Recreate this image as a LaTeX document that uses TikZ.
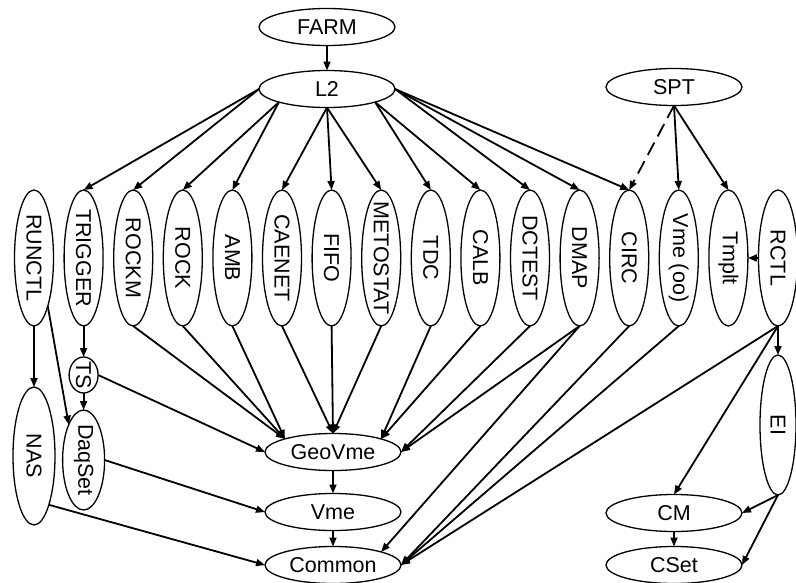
\documentclass[tikz,border=0pt]{standalone}
\usepackage{graphicx}
\usepackage{fontspec}
\setmainfont{Liberation Sans}
\usetikzlibrary{shapes.geometric}
\usetikzlibrary{positioning}
\usetikzlibrary{arrows.meta}
\newcommand{\vlab}[1]{\rotatebox{-90}{\makebox[0pt]{#1}}}

\begin{document}
\begin{tikzpicture}[x=1pt,y=-1pt,node distance=10.6pt,line width=1.8pt,
  >={Triangle[length=9pt,width=7pt]},
  font=\fontsize{21.5}{25}\selectfont,
  hnode/.style={draw,ellipse,line width=1.3pt,inner sep=0pt,outer sep=0pt,minimum width=136pt,minimum height=37pt},
  vnode/.style={draw,ellipse,line width=1.3pt,inner sep=0pt,outer sep=0pt,minimum width=39pt,minimum height=136pt}]
  \useasboundingbox (0,0) rectangle (796,582);
  \node[hnode](farm) at (327,27) {FARM};
  \node[hnode,below=25pt of farm](l2) {L2};
  \node[hnode](spt) at (674,87) {SPT};
  % row of modules
  \node[vnode](runctl) at (34,258) {\vlab{RUNCTL}};
  \node[vnode,right=of runctl](trigger) {\vlab{TRIGGER}};
  \node[vnode,right=of trigger](rockm) {\vlab{ROCKM}};
  \node[vnode,right=of rockm](rock) {\vlab{ROCK}};
  \node[vnode,right=of rock](amb) {\vlab{AMB}};
  \node[vnode,right=of amb](caenet) {\vlab{CAENET}};
  \node[vnode,right=of caenet](fifo) {\vlab{FIFO}};
  \node[vnode,right=of fifo](metostat) {\vlab{METOSTAT}};
  \node[vnode,right=of metostat](tdc) {\vlab{TDC}};
  \node[vnode,right=of tdc](calb) {\vlab{CALB}};
  \node[vnode,right=of calb](dctest) {\vlab{DCTEST}};
  \node[vnode,right=of dctest](dmap) {\vlab{DMAP}};
  \node[vnode,right=of dmap](circ) {\vlab{CIRC}};
  \node[vnode,right=of circ](vmeoo) {\vlab{Vme (oo)}};
  \node[vnode,right=of vmeoo](tmplt) {\vlab{Tmplt}};
  \node[vnode,right=of tmplt](rctl) {\vlab{RCTL}};
  % lower levels
  \node[vnode,below=31pt of trigger,minimum width=29pt,minimum height=36pt](ts) {\vlab{TS}};
  \node[vnode,below=17pt of ts,minimum width=42pt,minimum height=100pt](daqset) {\vlab{DaqSet}};
  \node[vnode,below=61pt of runctl,minimum width=42pt,minimum height=138pt](nas) {\vlab{NAS}};
  \node[vnode,below=29pt of rctl,minimum width=36pt,minimum height=140pt](ei) {\vlab{EI}};
  \node[hnode](geovme) at (333,452) {GeoVme};
  \node[hnode,below=23pt of geovme](vme) {Vme};
  \node[hnode,below=16pt of vme](common) {Common};
  \node[hnode](cm) at (674,513) {CM};
  \node[hnode,below=15pt of cm](cset) {CSet};
  % edges from the top
  \draw[->] (farm)--(l2);
  \draw[->] (l2.west)--(trigger.north);
  \draw[->] (l2.west)--(rockm.north);
  \draw[->] (l2.south west)--(rock.north);
  \draw[->] (l2.south west)--(amb.north);
  \draw[->] (l2.south)--(caenet.north);
  \draw[->] (l2.south)--(fifo.north);
  \draw[->] (l2.south)--(metostat.north);
  \draw[->] (l2.south east)--(tdc.north);
  \draw[->] (l2.south east)--(calb.north);
  \draw[->] (l2.east)--(dctest.north);
  \draw[->] (l2.east)--(dmap.north);
  \draw[->] (l2.east)--(circ.north);
  \draw[->,dash pattern=on 14pt off 7pt] (spt.south)--(circ.north);
  \draw[->] (spt.south)--(vmeoo.north);
  \draw[->] (spt.south)--(tmplt.north);
  \draw[->] (rctl)--(tmplt);
  % left side
  \draw[->] (runctl)--(nas);
  \draw[->] (runctl.south east)--(daqset.north west);
  \draw[->] (trigger)--(ts);
  \draw[->] (ts)--(daqset);
  \draw[->] (ts.east)--(geovme.west);
  \draw[->] (daqset.east)--(vme.west);
  \draw[->] (nas.south east)--(common.west);
  % into GeoVme
  \draw[->] (rockm.south)--(geovme.north west);
  \draw[->] (rock.south)--(geovme.north west);
  \draw[->] (amb.south)--(geovme.north west);
  \draw[->] (caenet.south)--(geovme.north);
  \draw[->] (fifo.south)--(geovme.north);
  \draw[->] (metostat.south)--(geovme.north);
  \draw[->] (tdc.south)--(geovme.north east);
  \draw[->] (calb.south)--(geovme.north east);
  \draw[->] (dctest.south)--(geovme.east);
  \draw[->] (dmap.south)--(geovme.east);
  \draw[->] (geovme)--(vme);
  \draw[->] (vme)--(common);
  % into Common
  \draw[->] (dmap.south)--(common.north east);
  \draw[->] (circ.south)--(common.east);
  \draw[->] (vmeoo.south)--(common.east);
  \draw[->] (rctl.south)--(common.east);
  % right side
  \draw[->] (rctl)--(ei);
  \draw[->] (rctl.south)--(cm.north);
  \draw[->] (ei.south)--(cm.east);
  \draw[->] (ei.south)--(cset.east);
  \draw[->] (cm)--(cset);
\end{tikzpicture}
\end{document}
